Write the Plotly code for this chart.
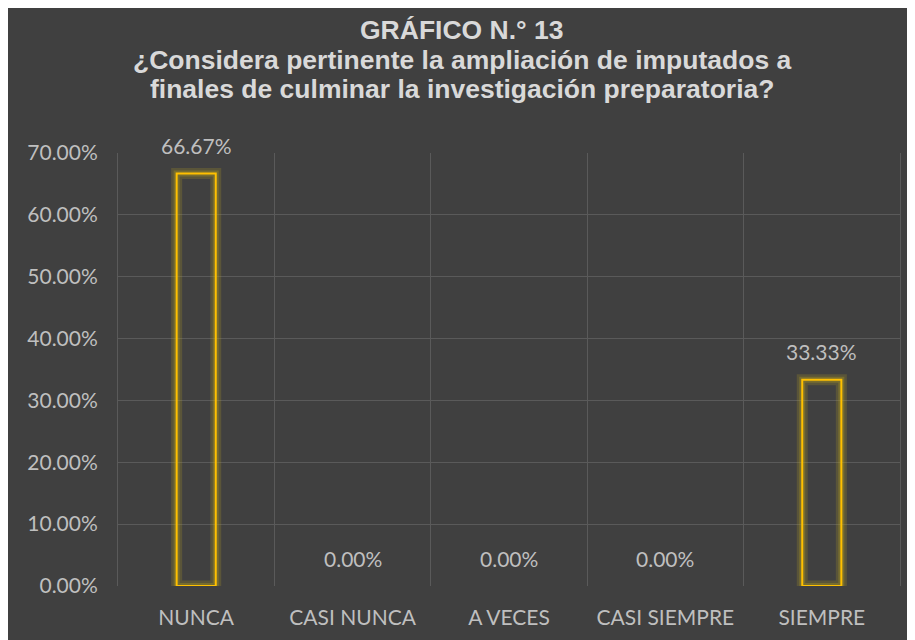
import plotly.graph_objects as go

categories = ["NUNCA", "CASI NUNCA", "A VECES", "CASI SIEMPRE", "SIEMPRE"]
values = [0.6667, 0.0, 0.0, 0.0, 0.3333]
y_ticks = [0.0, 0.1, 0.2, 0.3, 0.4, 0.5, 0.6, 0.7]
title_lines = [
    "GRÁFICO N.° 13",
    "¿Considera pertinente la ampliación de imputados a",
    "finales de culminar la investigación preparatoria?",
]

BG = "#404040"
GRID = "#5a5a5a"
LABEL = "#bfbfbf"
GOLD = "#FFC000"
FONT = "Lato, 'Open Sans', sans-serif"
FS = 21

# zero-height bars are not drawn in the reference
bar_vals = [v if v > 0 else None for v in values]

fig = go.Figure()

# soft glow around the outlines
fig.add_trace(go.Bar(
    x=categories, y=bar_vals, width=0.25,
    marker=dict(color="rgba(0,0,0,0)", line=dict(color="rgba(180,160,30,0.22)", width=11)),
    hoverinfo="skip", showlegend=False,
))
fig.add_trace(go.Bar(
    x=categories, y=bar_vals, width=0.25,
    marker=dict(color="rgba(0,0,0,0)", line=dict(color="rgba(190,165,30,0.3)", width=6)),
    hoverinfo="skip", showlegend=False,
))
fig.add_trace(go.Bar(
    x=categories, y=bar_vals, width=0.25,
    marker=dict(color="rgba(0,0,0,0)", line=dict(color=GOLD, width=2)),
    showlegend=False,
))

for c, v in zip(categories, values):
    fig.add_annotation(
        x=c, y=v, text=f"{v*100:.2f}%", showarrow=False,
        yanchor="middle", yshift=28,
        font=dict(family=FONT, size=FS, color=LABEL),
    )

# page offset of 8 px is compensated: figure coords = screen coords - 8
FW, FH = 907, 632
L, R, T, B = 110, 892, 145, 578
W, H = R - L, B - T

# title, one annotation per line
for line, ypx in zip(title_lines, [22, 52, 81]):
    fig.add_annotation(
        text=line, showarrow=False, xref="paper", yref="paper",
        x=(454 - L) / W, y=(B - ypx) / H, xanchor="center", yanchor="middle",
        font=dict(family="'Liberation Sans', Arial, sans-serif", size=26.5, color="#d9d9d9", weight="bold"),
    )

fig.update_layout(
    width=FW, height=FH,
    margin=dict(l=L, r=FW - R, t=T, b=FH - B),
    paper_bgcolor=BG,
    plot_bgcolor=BG,
    barmode="overlay",
    xaxis=dict(
        type="category", tickson="boundaries", automargin=False,
        showgrid=True, gridcolor=GRID, gridwidth=1,
        ticks="", ticklabelstandoff=17,
        tickfont=dict(family=FONT, size=FS, color=LABEL),
        showline=False, zeroline=False, fixedrange=True,
    ),
    yaxis=dict(
        range=[0, 0.7], tickvals=y_ticks, tickformat=".2%", automargin=False,
        showgrid=True, gridcolor=GRID, gridwidth=1,
        ticks="outside", ticklen=15, tickcolor="rgba(0,0,0,0)",
        tickfont=dict(family=FONT, size=FS, color=LABEL),
        zeroline=False, showline=True, linecolor=GRID, linewidth=1, mirror=True,
    ),
)

fig.write_html("out.html")
